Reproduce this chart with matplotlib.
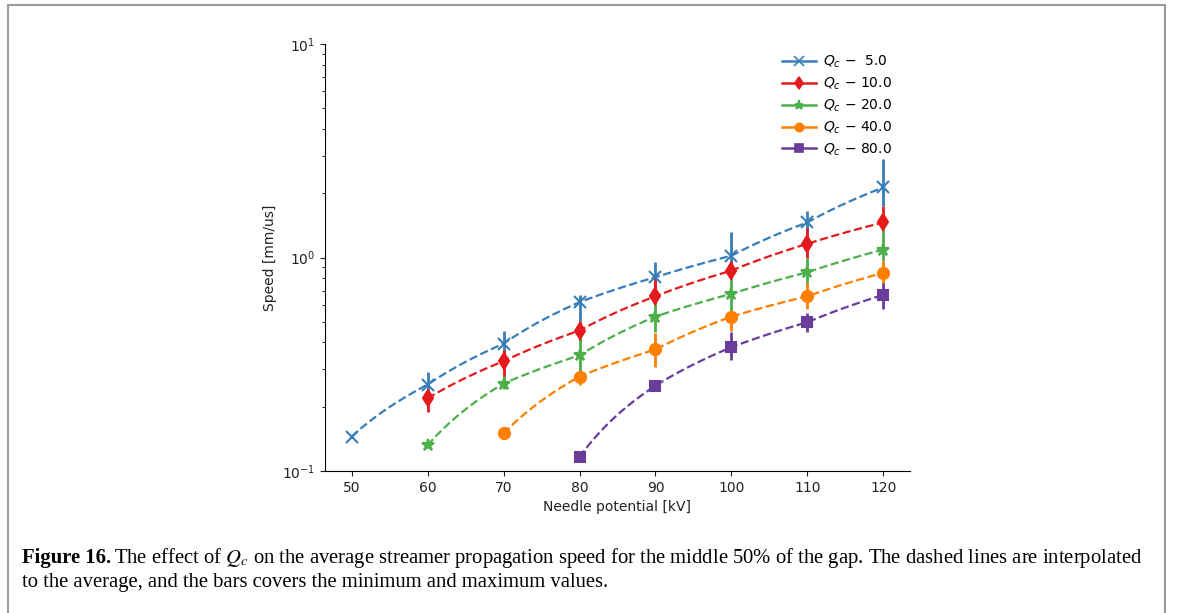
import numpy as np
import matplotlib
matplotlib.use("Agg")
import matplotlib.pyplot as plt
from matplotlib.lines import Line2D
from matplotlib.patches import Rectangle

# needle potential [kV]
voltage = [50, 60, 70, 80, 90, 100, 110, 120]

# average speed, min, max [mm/us] per Qc (None = no data)
q_values = [5.0, 10.0, 20.0, 40.0, 80.0]

mean_q5 = [0.145, 0.254, 0.395, 0.618, 0.809, 1.02, 1.46, 2.13]
min_q5 = [0.145, 0.23, 0.36, 0.507, 0.716, 0.937, 1.34, 1.75]
max_q5 = [0.145, 0.290, 0.452, 0.671, 0.951, 1.31, 1.66, 2.90]

mean_q10 = [None, 0.219, 0.327, 0.455, 0.659, 0.869, 1.16, 1.46]
min_q10 = [None, 0.188, 0.275, 0.40, 0.60, 0.80, 1.00, 1.37]
max_q10 = [None, 0.234, 0.367, 0.507, 0.797, 0.968, 1.37, 1.75]

mean_q20 = [None, 0.132, 0.257, 0.348, 0.529, 0.676, 0.853, 1.09]
min_q20 = [None, 0.132, 0.243, 0.290, 0.447, 0.554, 0.753, 0.968]
max_q20 = [None, 0.132, 0.280, 0.423, 0.629, 0.824, 1.00, 1.37]

mean_q40 = [None, None, 0.150, 0.277, 0.371, 0.529, 0.659, 0.848]
min_q40 = [None, None, 0.150, 0.254, 0.306, 0.455, 0.575, 0.753]
max_q40 = [None, None, 0.150, 0.287, 0.441, 0.554, 0.756, 0.968]

mean_q80 = [None, None, None, 0.116, 0.251, 0.380, 0.498, 0.669]
min_q80 = [None, None, None, 0.116, 0.238, 0.330, 0.447, 0.575]
max_q80 = [None, None, None, 0.116, 0.265, 0.447, 0.547, 0.756]

series = [
    (mean_q5, min_q5, max_q5, "#377eb8", "x", 9),
    (mean_q10, min_q10, max_q10, "#e41a1c", "d", 8),
    (mean_q20, min_q20, max_q20, "#4daf4a", "*", 9),
    (mean_q40, min_q40, max_q40, "#ff7f00", "o", 8),
    (mean_q80, min_q80, max_q80, "#6a3d9a", "s", 7),
]

fig = plt.figure(figsize=(11.81, 6.13), dpi=100)
ax = fig.add_axes([0.2752, 0.2316, 0.4953, 0.6966])

handles = []
for q, (mean, lo, hi, col, mk, ms) in zip(q_values, series):
    idx = [i for i, m in enumerate(mean) if m is not None]
    x = np.array([voltage[i] for i in idx], dtype=float)
    y = np.array([mean[i] for i in idx])
    ylo = np.array([lo[i] for i in idx])
    yhi = np.array([hi[i] for i in idx])
    # dashed line interpolated to the average (linear in speed)
    xf = np.linspace(x[0], x[-1], 300)
    ax.plot(xf, np.interp(xf, x, y), "--", color=col, lw=1.6)
    ax.errorbar(x, y, yerr=[y - ylo, yhi - y], fmt=mk, color=col,
                ms=ms, mew=1.5, elinewidth=2, capsize=0)
    handles.append(Line2D([], [], color=col, marker=mk, ms=ms * 0.75, mew=1.2,
                          lw=1.8, label=f"$Q_c$ − {q:4.1f}"))

ax.set_yscale("log")
ax.set_ylim(0.1, 10)
ax.set_xticks(voltage)
ax.set_xlim(46.5, 123.5)
ax.spines["top"].set_visible(False)
ax.spines["right"].set_visible(False)
ax.tick_params(labelsize=10, colors="#222222")
ax.set_xlabel("Needle potential [kV]", fontsize=10, color="#222222")
ax.set_ylabel("Speed [mm/us]", fontsize=10, color="#222222", labelpad=4)
ax.legend(handles=handles, loc="upper right", frameon=False, fontsize=10,
          bbox_to_anchor=(0.99, 1.007), handlelength=2.4, handletextpad=0.5,
          labelspacing=0.4)

# page frame
fig.patches.append(Rectangle((8 / 1181, -0.05), (1165 - 8) / 1181,
                             1.05 - 5 / 613, transform=fig.transFigure,
                             fill=False, ec="#9a9a9a", lw=1.5))

# caption
fig.canvas.draw()
r = fig.canvas.get_renderer()
cap_size = 14.9
t1 = fig.text(22 / 1181, 1 - 563 / 613, "Figure 16.", fontsize=cap_size,
              family="Liberation Serif", weight="bold", va="baseline")
bb = t1.get_window_extent(r)
fig.text((bb.x1 + 3) / 1181, 1 - 563 / 613,
         "The effect of $Q_c$ on the average streamer propagation speed for the "
         "middle 50% of the gap. The dashed lines are interpolated",
         fontsize=cap_size, family="Liberation Serif", math_fontfamily="stix",
         va="baseline")
fig.text(22 / 1181, 1 - 587 / 613,
         "to the average, and the bars covers the minimum and maximum values.",
         fontsize=cap_size, family="Liberation Serif", va="baseline")

fig.savefig("out.png", dpi=100)
